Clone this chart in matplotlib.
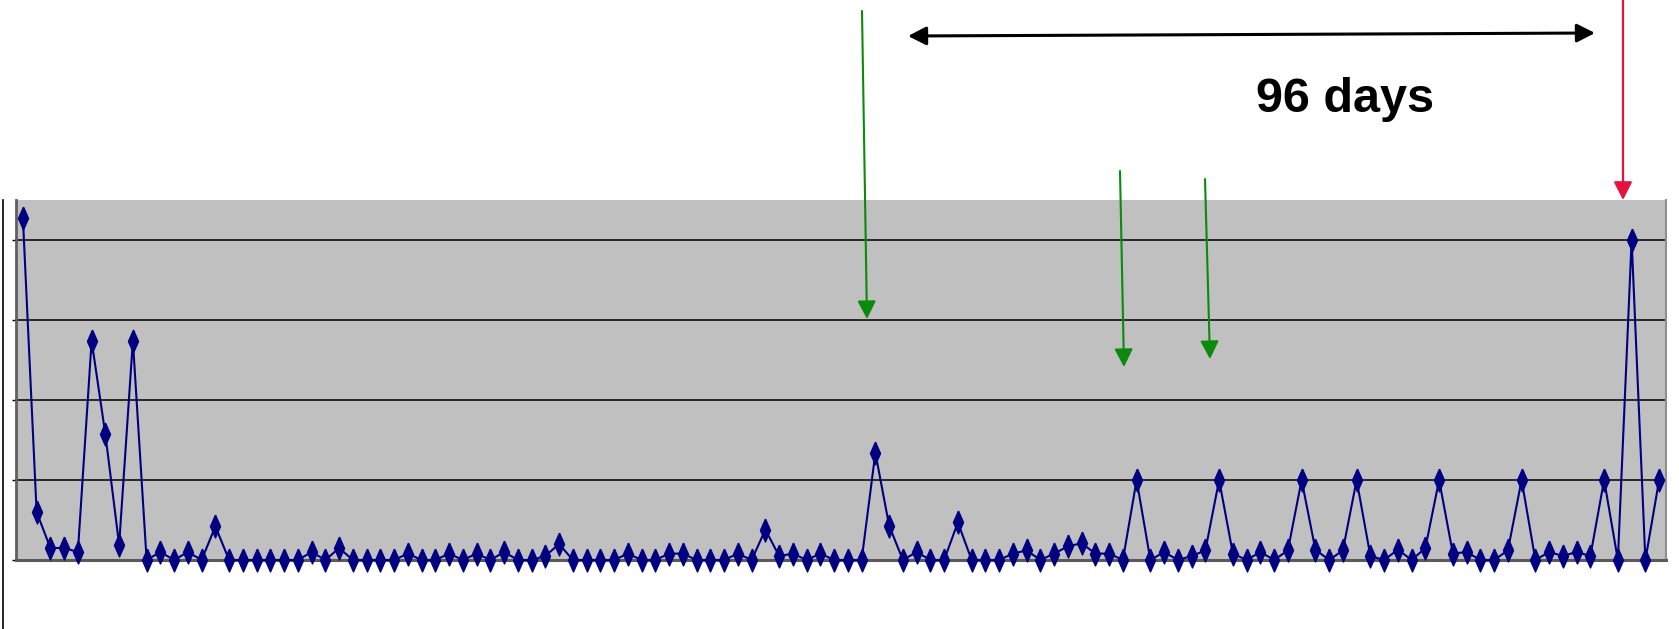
import numpy as np
import matplotlib
matplotlib.use("Agg")
import matplotlib.pyplot as plt

#----------------------------------------------------------
# Data
#----------------------------------------------------------
values = [
    4.28, 0.60, 0.15, 0.15, 0.10, 2.74, 1.57, 0.19, 2.74, 0.00,
    0.10, 0.00, 0.10, 0.00, 0.42, 0.00, 0.00, 0.00, 0.00, 0.00,
    0.00, 0.10, 0.00, 0.15, 0.00, 0.00, 0.00, 0.00, 0.08, 0.00,
    0.00, 0.08, 0.00, 0.08, 0.00, 0.10, 0.00, 0.00, 0.05, 0.20,
    0.00, 0.00, 0.00, 0.00, 0.08, 0.00, 0.00, 0.08, 0.08, 0.00,
    0.00, 0.00, 0.08, 0.00, 0.38, 0.05, 0.08, 0.00, 0.08, 0.00,
    0.00, 0.00, 1.34, 0.43, 0.00, 0.10, 0.00, 0.00, 0.47, 0.00,
    0.00, 0.00, 0.08, 0.12, 0.00, 0.08, 0.17, 0.21, 0.08, 0.08,
    0.00, 1.00, 0.00, 0.10, 0.00, 0.05, 0.12, 1.00, 0.08, 0.00,
    0.10, 0.00, 0.12, 1.00, 0.13, 0.00, 0.12, 1.00, 0.05, 0.00,
    0.13, 0.00, 0.15, 1.00, 0.08, 0.10, 0.00, 0.00, 0.12, 1.00,
    0.00, 0.10, 0.05, 0.10, 0.05, 1.00, 0.00, 4.00, 0.00, 1.00,
]
y_ticks = [0, 1, 2, 3, 4]
span_label = "96 days"

W, H = 1679, 629

#----------------------------------------------------------
# helper: image pixel (from top-left) -> figure pixels
#----------------------------------------------------------
def px(x, y):
    return (x, H - y)

#----------------------------------------------------------
# Figure and axes
#----------------------------------------------------------
fig = plt.figure(figsize=(W / 100, H / 100), dpi=100)
ax = fig.add_axes([16 / W, 69 / H, 1650 / W, 360 / H])
ax.set_facecolor("#C0C0C0")

x = np.arange(len(values))
diamond = [(0, 1), (0.44, 0), (0, -1), (-0.44, 0), (0, 1)]
ax.plot(x, values, color="#000080", lw=1.5, marker=diamond,
        markersize=16.5, markerfacecolor="#000080",
        markeredgecolor="#000080", markeredgewidth=1.0,
        clip_on=False, zorder=3)

ax.set_xlim(-0.5, len(values) - 0.5)
ax.set_ylim(0, 4.5)
ax.set_yticks(y_ticks)
ax.set_yticklabels([])
ax.set_xticks([])
ax.tick_params(axis="y", direction="out", length=3, width=1, color="black")
for t in y_ticks[1:]:
    ax.axhline(t, color="black", lw=1.1, zorder=1)

ax.spines["top"].set_visible(False)
ax.spines["left"].set_color("#606060")
ax.spines["left"].set_linewidth(2)
ax.spines["bottom"].set_color("#5a5a5a")
ax.spines["bottom"].set_linewidth(2.2)
ax.spines["right"].set_color("#909090")
ax.spines["right"].set_linewidth(1.5)

# outer frame line on the far left
fig.add_artist(plt.Line2D([3 / W, 3 / W], [0, 429 / H], color="black", lw=1.2))

#----------------------------------------------------------
# Annotations
#----------------------------------------------------------
def arrow(tail, tip, color, lw, style="-|>"):
    ax.annotate("", xy=px(*tip), xytext=px(*tail),
                xycoords="figure pixels", textcoords="figure pixels",
                annotation_clip=False,
                arrowprops=dict(arrowstyle=style + ",head_length=11,head_width=5.6",
                                mutation_scale=1, color=color, lw=lw,
                                shrinkA=0, shrinkB=0))

green = "#0B8A0B"
arrow((862, 11), (867, 319), green, 1.5)
arrow((1120, 171), (1124, 367), green, 1.5)
arrow((1205, 179), (1210, 359), green, 1.5)
arrow((1623, 0), (1623, 200), "#E8103C", 1.6)
arrow((908, 36), (1595, 33), "black", 2.2, style="<|-|>")

fig.text(1345 / W, 1 - 112 / H, span_label, ha="center", va="baseline",
         fontsize=35, fontweight="bold", family=["Liberation Sans", "DejaVu Sans"])

fig.savefig("out.png", dpi=100)
